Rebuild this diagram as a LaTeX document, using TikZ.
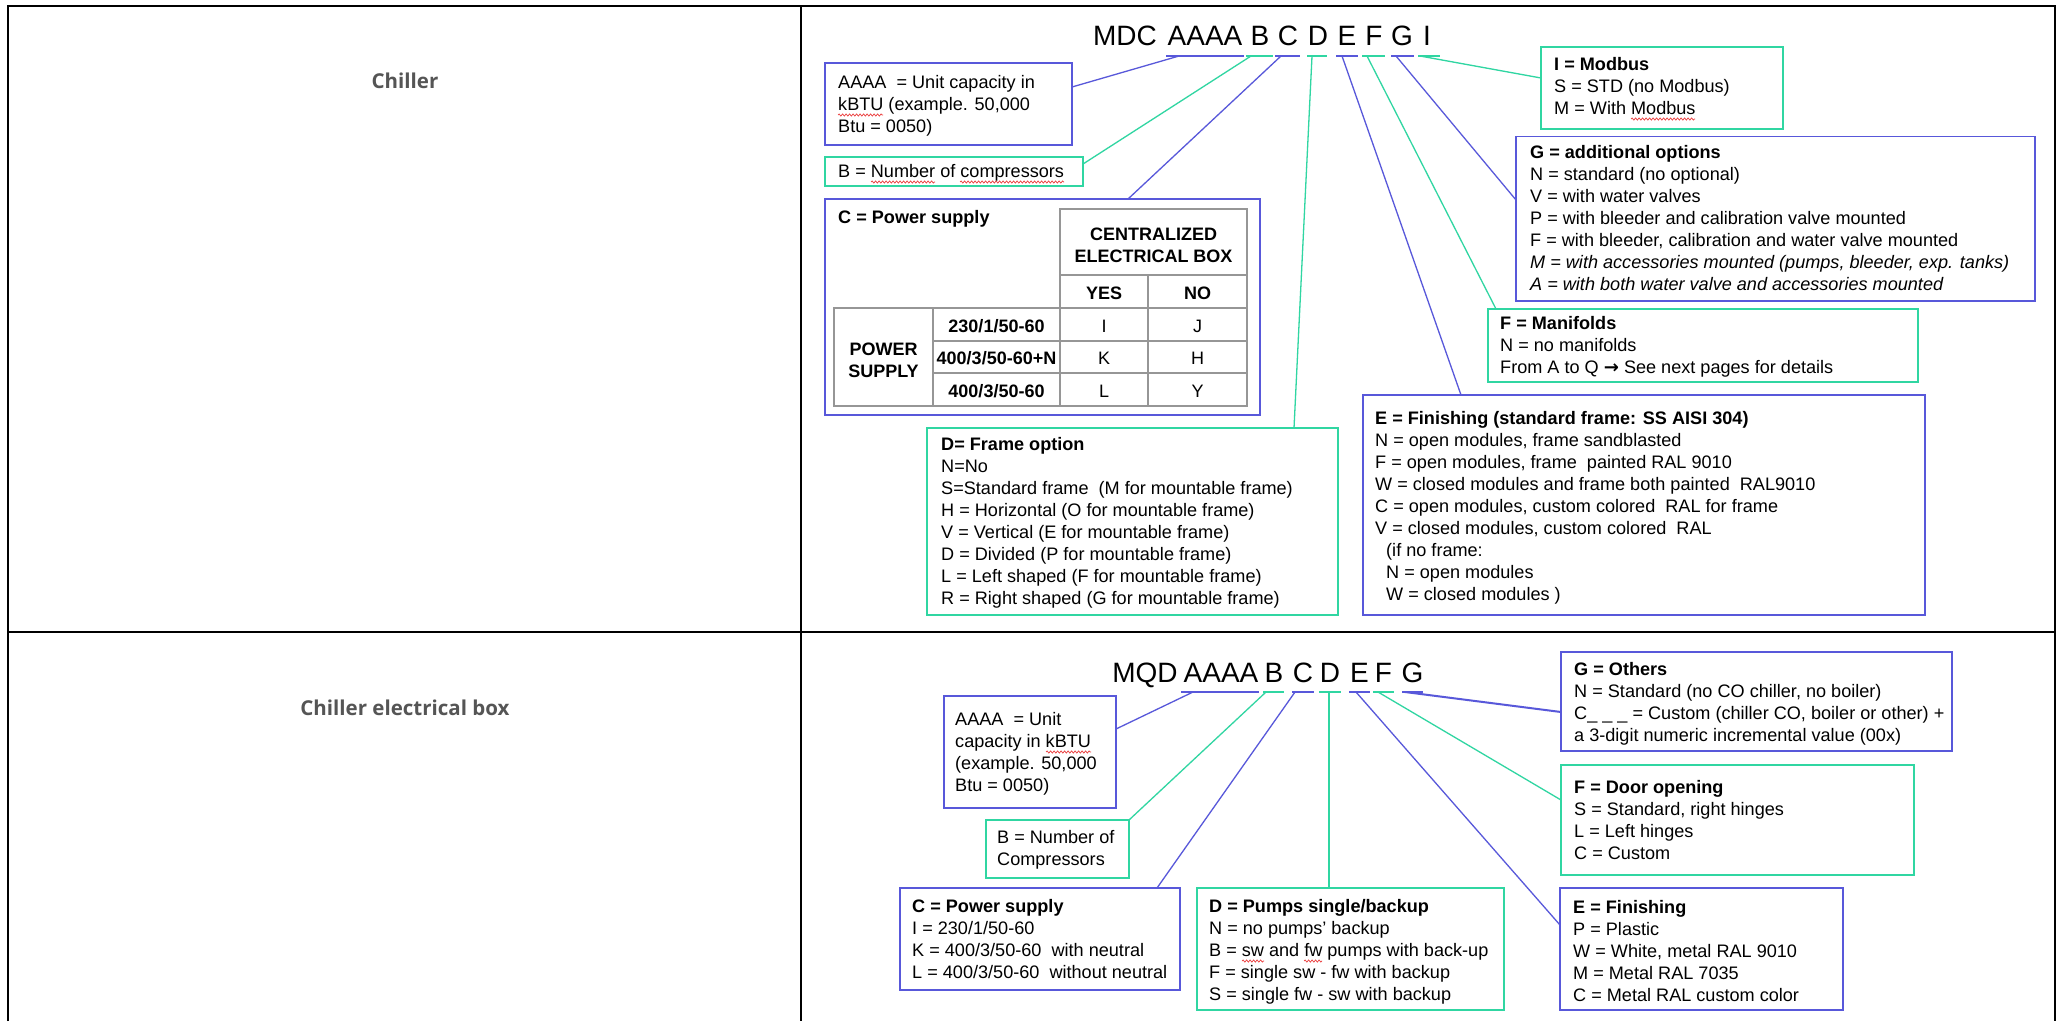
\documentclass[tikz,border=0pt]{standalone}
\usepackage{fontspec}
\setmainfont{Liberation Sans}
\newfontfamily\titlefont{Open Sans}
\newfontfamily\symfont{DejaVu Sans}
\usetikzlibrary{calc,decorations.pathmorphing}
\definecolor{bl}{RGB}{88,88,218}
\definecolor{gr}{RGB}{48,214,162}
\definecolor{ttl}{RGB}{85,85,85}
\definecolor{tblc}{RGB}{150,150,150}
\definecolor{sq}{RGB}{235,60,60}
\begin{document}
\begin{tikzpicture}[x=1pt,y=-1pt,
  bx/.style={draw,line width=1.6pt,rectangle,inner sep=0pt,outer sep=0pt,anchor=north west},
  bbox/.style={bx,draw=bl},
  gbox/.style={bx,draw=gr},
  tx/.style={font=\fontsize{18.1}{22}\selectfont,align=left,inner sep=0pt,anchor=north west},
  codetxt/.style={font=\fontsize{28}{30}\selectfont,inner sep=0pt,anchor=base},
  tcell/.style={font=\fontsize{18}{22}\selectfont,inner sep=0pt,anchor=base},
  ttitle/.style={font=\titlefont\bfseries\fontsize{20.5}{24}\selectfont,text=ttl,inner sep=0pt,anchor=base},
  bline/.style={draw=bl,line width=1.3pt},
  gline/.style={draw=gr,line width=1.3pt},
  bdash/.style={draw=bl,line width=2pt},
  gdash/.style={draw=gr,line width=2pt},
  frameline/.style={draw=black,line width=2.8pt},
  tline/.style={draw=tblc,line width=1.2pt},
  squig/.style={draw=sq,line width=0.7pt,decorate,decoration={snake,amplitude=1.1pt,segment length=3.5pt}}
]
\useasboundingbox (0,0) rectangle (2063,1021);
\fill[white] (0,0) rectangle (2063,1021);

% outer table
\draw[frameline] (8,1021) -- (8,6) -- (2055,6) -- (2055,1021);
\draw[frameline] (801,6) -- (801,1021);
\draw[frameline] (8,632) -- (2055,632);

% row titles
\node[ttitle] (t1) at (405,88) {Chiller};
\node[ttitle] (t2) at (405,715) {Chiller electrical box};

% ================= TOP: MDC code =================
\node[codetxt] (cMDC) at (1125,45) {MDC};
\node[codetxt] (cA) at (1205,45) {AAAA};
\node[codetxt] (cB) at (1260,45) {B};
\node[codetxt] (cC) at (1288,45) {C};
\node[codetxt] (cD) at (1318,45) {D};
\node[codetxt] (cE) at (1347,45) {E};
\node[codetxt] (cF) at (1374,45) {F};
\node[codetxt] (cG) at (1402,45) {G};
\node[codetxt] (cI) at (1427,45) {I};

\draw[bdash] (1166,56) -- (1244,56);
\draw[gdash] (1246,56) -- (1273,56);
\draw[bdash] (1275,56) -- (1300,56);
\draw[gdash] (1307,56) -- (1327,56);
\draw[bdash] (1336,56) -- (1358,56);
\draw[gdash] (1362,56) -- (1385,56);
\draw[bdash] (1391,56) -- (1414,56);
\draw[gdash] (1418,56) -- (1440,56);

% boxes
\node[bbox,minimum width=247pt,minimum height=82pt] (A) at (825,63) {};
\node[gbox,minimum width=258pt,minimum height=29pt] (B) at (825,157) {};
\node[bbox,minimum width=435pt,minimum height=216pt] (C) at (825,199) {};
\node[gbox,minimum width=411pt,minimum height=187pt] (D) at (927,428) {};
\node[bbox,minimum width=562pt,minimum height=220pt] (E) at (1363,395) {};
\node[gbox,minimum width=430pt,minimum height=73pt] (F) at (1488,309) {};
\node[bbox,minimum width=519pt,minimum height=164.5pt] (G) at (1516,136.5) {};
\node[gbox,minimum width=242pt,minimum height=82pt] (I) at (1541,47) {};

% texts
\node[tx] (At) at (838,72.6) {\strut AAAA\ \ = Unit capacity in\\kBTU (example. 50,000\\Btu = 0050)};
\node[tx] (Bt) at (838,161.6) {\strut B = Number of compressors};
\node[tx] (Ct) at (838,207.6) {\strut\textbf{C = Power supply}};
\node[tx] (Dt) at (941,434.6) {\strut\textbf{D= Frame option}\\N=No\\S=Standard frame\ \ (M for mountable frame)\\H = Horizontal (O for mountable frame)\\V = Vertical (E for mountable frame)\\D = Divided (P for mountable frame)\\L = Left shaped (F for mountable frame)\\R = Right shaped (G for mountable frame)};
\node[tx] (Et) at (1375,408.6) {\strut\textbf{E = Finishing (standard frame: SS AISI 304)}\\N = open modules, frame sandblasted\\F = open modules, frame\ \ painted RAL 9010\\W = closed modules and frame both painted\ \ RAL9010\\C = open modules, custom colored\ \ RAL for frame\\V = closed modules, custom colored\ \ RAL\\\hspace*{11pt}(if no frame:\\\hspace*{11pt}N = open modules\\\hspace*{11pt}W = closed modules )};
\node[tx] (Ft) at (1500,313.6) {\strut\textbf{F = Manifolds}\\N = no manifolds\\From A to Q {\symfont\bfseries →} See next pages for details};
\node[tx] (Gt) at (1530,142.6) {\strut\textbf{G = additional options}\\N = standard (no optional)\\V = with water valves\\P = with bleeder and calibration valve mounted\\F = with bleeder, calibration and water valve mounted\\\textit{M = with accessories mounted (pumps, bleeder, exp. tanks)}\\\textit{A = with both water valve and accessories mounted}};
\node[tx] (It) at (1554,54.6) {\strut\textbf{I = Modbus}\\S = STD (no Modbus)\\M = With Modbus};

% spell-check marks
\draw[squig] (838,115) -- (883,115);
\draw[squig] (871,182) -- (935,182);
\draw[squig] (960,182) -- (1064,182);
\draw[squig] (1631,119) -- (1695,119);

% power supply table
\draw[tline] (1060,209) rectangle (1247,308);
\draw[tline] (834,308) rectangle (1247,406);
\draw[tline] (1060,275) -- (1247,275);
\draw[tline] (1148,275) -- (1148,406);
\draw[tline] (1060,308) -- (1060,406);
\draw[tline] (933,308) -- (933,406);
\draw[tline] (933,341) -- (1247,341);
\draw[tline] (933,373) -- (1247,373);
\node[tcell] (h1) at (1153.5,240) {\textbf{CENTRALIZED}};
\node[tcell] (h2) at (1153.5,262) {\textbf{ELECTRICAL BOX}};
\node[tcell] (hy) at (1104,299) {\textbf{YES}};
\node[tcell] (hn) at (1197.5,299) {\textbf{NO}};
\node[tcell] (p1) at (883.5,355) {\textbf{POWER}};
\node[tcell] (p2) at (883.5,377) {\textbf{SUPPLY}};
\node[tcell] (r1) at (996.5,332) {\textbf{230/1/50-60}};
\node[tcell] (r2) at (996.5,364.5) {\textbf{400/3/50-60+N}};
\node[tcell] (r3) at (996.5,397) {\textbf{400/3/50-60}};
\node[tcell] (v11) at (1104,332) {I};
\node[tcell] (v12) at (1197.5,332) {J};
\node[tcell] (v21) at (1104,364.5) {K};
\node[tcell] (v22) at (1197.5,364.5) {H};
\node[tcell] (v31) at (1104,397) {L};
\node[tcell] (v32) at (1197.5,397) {Y};

% connectors top
\coordinate (sA) at (1179,56);
\coordinate (sB) at (1251,56);
\coordinate (sC) at (1281,56);
\coordinate (sD) at (1312,56);
\coordinate (sE) at (1342,56);
\coordinate (sF) at (1367,56);
\coordinate (sG) at (1396,56);
\coordinate (sI) at (1420,56);
\draw[bline] (sA) -- ($(A.north east)+(0,24)$);
\draw[gline] (sB) -- ($(B.north east)+(0,7)$);
\draw[bline] (sC) -- ($(C.north west)+(303,0)$);
\draw[gline] (sD) -- ($(D.north west)+(367,0)$);
\draw[bline] (sE) -- ($(E.north west)+(98,0)$);
\draw[gline] (sF) -- ($(F.north west)+(8,0)$);
\draw[bline] (sG) -- ($(G.north west)+(0,63.5)$);
\draw[gline] (sI) -- ($(I.north west)+(0,31)$);

% ================= BOTTOM: MQD code =================
\node[codetxt] (qMQD) at (1145,682) {MQD};
\node[codetxt] (qA) at (1221,682) {AAAA};
\node[codetxt] (qB) at (1274,682) {B};
\node[codetxt] (qC) at (1303,682) {C};
\node[codetxt] (qD) at (1330,682) {D};
\node[codetxt] (qE) at (1359.5,682) {E};
\node[codetxt] (qF) at (1383.5,682) {F};
\node[codetxt] (qG) at (1412.5,682) {G};

\draw[bdash] (1181,692) -- (1259,692);
\draw[gdash] (1263,692) -- (1284,692);
\draw[bdash] (1292,692) -- (1314,692);
\draw[gdash] (1319,692) -- (1341,692);
\draw[bdash] (1349,692) -- (1370,692);
\draw[gdash] (1373,692) -- (1394,692);
\draw[bdash] (1402,692) -- (1423,692);

\node[bbox,minimum width=172pt,minimum height=112pt] (A2) at (944,696) {};
\node[gbox,minimum width=143pt,minimum height=58pt] (B2) at (986,820) {};
\node[bbox,minimum width=280pt,minimum height=102pt] (C2) at (900,888) {};
\node[gbox,minimum width=307pt,minimum height=122pt] (D2) at (1197,888) {};
\node[bbox,minimum width=283pt,minimum height=122pt] (E2) at (1560,888) {};
\node[gbox,minimum width=353pt,minimum height=110pt] (F2) at (1561,765) {};
\node[bbox,minimum width=391pt,minimum height=99pt] (G2) at (1561,652) {};

\node[tx] (A2t) at (955,709.6) {\strut AAAA\ \ = Unit\\capacity in kBTU\\(example. 50,000\\Btu = 0050)};
\node[tx] (B2t) at (997,827.6) {\strut B = Number of\\Compressors};
\node[tx] (C2t) at (912,896.6) {\strut\textbf{C = Power supply}\\I = 230/1/50-60\\K = 400/3/50-60\ \ with neutral\\L = 400/3/50-60\ \ without neutral};
\node[tx] (D2t) at (1209,896.6) {\strut\textbf{D = Pumps single/backup}\\N = no pumps’ backup\\B = sw and fw pumps with back-up\\F = single sw - fw with backup\\S = single fw - sw with backup};
\node[tx] (E2t) at (1573,897.6) {\strut\textbf{E = Finishing}\\P = Plastic\\W = White, metal RAL 9010\\M = Metal RAL 7035\\C = Metal RAL custom color};
\node[tx] (F2t) at (1574,777.6) {\strut\textbf{F = Door opening}\\S = Standard, right hinges\\L = Left hinges\\C = Custom};
\node[tx] (G2t) at (1574,659.6) {\strut\textbf{G = Others}\\N = Standard (no CO chiller, no boiler)\\C\_ \_ \_ = Custom (chiller CO, boiler or other) +\\a 3-digit numeric incremental value (00x)};

\draw[squig] (1046,752) -- (1091,752);
\draw[squig] (1242,961) -- (1264,961);
\draw[squig] (1304,961) -- (1322,961);

\coordinate (uA) at (1193,692);
\coordinate (uB) at (1266,692);
\coordinate (uC) at (1295,692);
\coordinate (uD) at (1329,692);
\coordinate (uE) at (1356,692);
\coordinate (uF) at (1378,692);
\coordinate (uG) at (1405,692);
\draw[bline] (uA) -- ($(A2.north east)+(0,33)$);
\draw[gline] (uB) -- (B2.north east);
\draw[bline] (uC) -- ($(C2.north west)+(257,0)$);
\draw[gline] (uD) -- ($(D2.north west)+(132,0)$);
\draw[bline] (uE) -- ($(E2.north west)+(0,37)$);
\draw[gline] (uF) -- ($(F2.north west)+(0,35)$);
\draw[bline,line width=2pt] (uG) -- ($(G2.north west)+(0,60)$);
\end{tikzpicture}
\end{document}
